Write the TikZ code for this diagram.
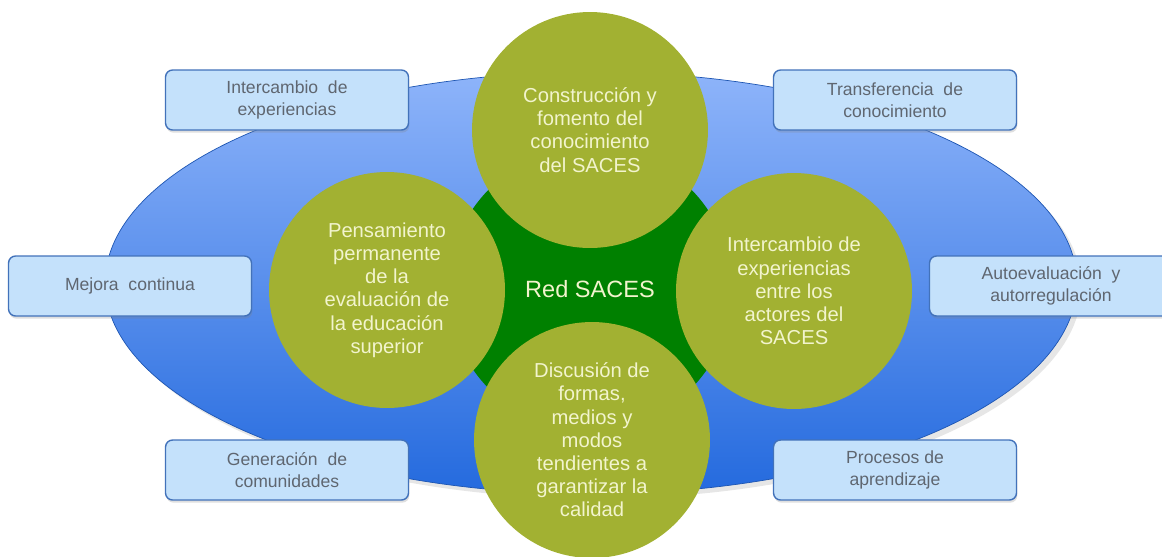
\documentclass[tikz,border=0pt]{standalone}
\usepackage{fontspec}
\setmainfont{Liberation Sans}
\usetikzlibrary{shapes.geometric,shadows}

\definecolor{olivo}{RGB}{162,177,50}
\definecolor{verde}{RGB}{0,128,0}
\definecolor{crema}{RGB}{242,244,205}
\definecolor{cielo}{RGB}{196,225,251}
\definecolor{borde}{RGB}{66,114,186}
\definecolor{gris}{RGB}{95,102,112}
\definecolor{azulclaro}{RGB}{142,180,250}
\definecolor{azul}{RGB}{36,106,222}

\tikzset{
  rueda/.style={circle, fill=olivo, minimum size=4.72cm, inner sep=0pt, align=center,
    text=crema, font=\fontsize{11.5}{13.2}\selectfont},
  caja/.style={rounded corners=4pt, draw=borde, line width=0.8pt, fill=cielo,
    minimum width=4.86cm, minimum height=1.2cm, align=center, text=gris,
    font=\fontsize{10}{12.5}\selectfont,
    drop shadow={opacity=0.25, shadow xshift=0.5pt, shadow yshift=-1.5pt}},
}

\begin{document}
\begin{tikzpicture}[x=0.02cm, y=-0.02cm]
\useasboundingbox (0,0) rectangle (1162,556);
\clip (0,0) rectangle (1162,556);
% fondo azul
\node[ellipse, minimum width=19.44cm, minimum height=8.44cm, inner sep=0pt,
  top color=azulclaro, bottom color=azul, draw=azul!80!black, line width=0.4pt,
  drop shadow={opacity=0.2}] (campo) at (591,283) {};
\node[circle, fill=verde, minimum size=5.68cm, inner sep=0pt, text=crema,
  font=\fontsize{13.4}{15}\selectfont] (red) at (590,289) {Red SACES};
% circulos
\node[rueda] (arriba) at (590,130) {Construcción y\\fomento del\\conocimiento\\del SACES};
\node[rueda] (izq) at (387,290) {Pensamiento\\permanente\\de la\\evaluación de\\la educación\\superior};
\node[rueda] (der) at (794,291) {Intercambio de\\experiencias\\entre los\\actores del\\SACES};
\node[rueda] (abajo) at (592,440) {Discusión de\\formas,\\medios y\\modos\\tendientes a\\garantizar la\\calidad};
% cajas
\foreach \nombre/\x/\y/\texto in {
    inter/287/100/{Intercambio~ de\\experiencias},
    trans/895/100/{Transferencia~ de\\conocimiento},
    mejora/130/286/{Mejora~ continua},
    auto/1051/286/{Autoevaluación~ y\\autorregulación},
    gener/287/470/{Generación~ de\\comunidades},
    proc/895/470/{Procesos de\\aprendizaje}}
  \node[caja] (\nombre) at (\x,\y) {\texto};
\end{tikzpicture}
\end{document}
